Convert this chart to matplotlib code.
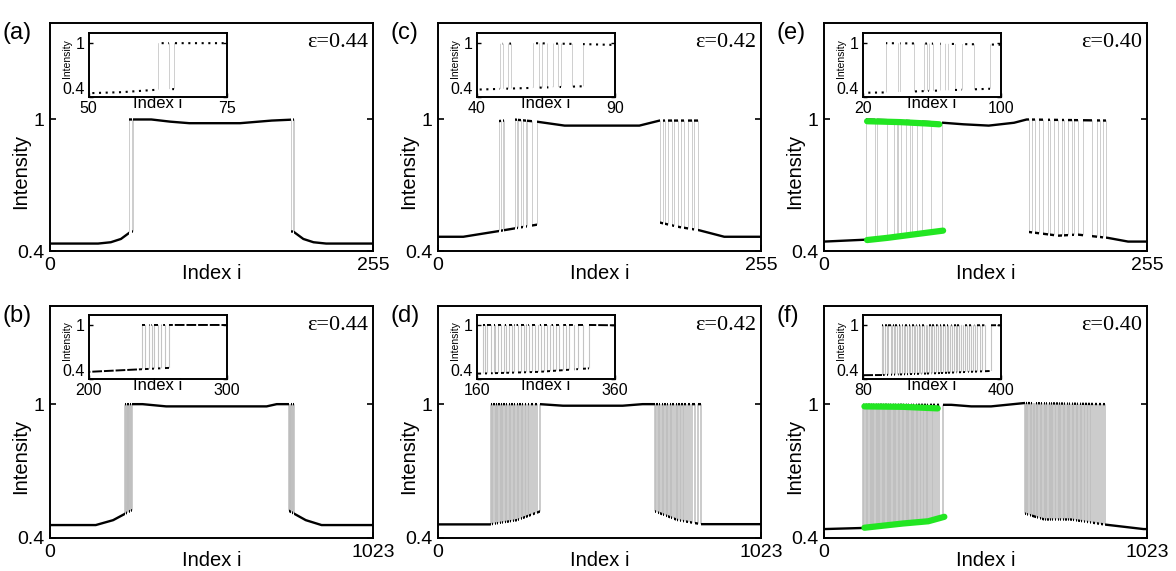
import matplotlib.pyplot as plt
from matplotlib.path import Path

plt.rcParams.update({
    "font.family": ["Liberation Sans", "DejaVu Sans"],
    "font.size": 14,
    "axes.linewidth": 1.4,
})

# ---------------- data ----------------
# lower / upper branch envelopes (index i, intensity) and the indices
# where the pattern jumps between the two branches

# (a) eps = 0.44, 256 sites
a_lo_x = [0, 38, 48, 56, 64, 192, 200, 208, 218, 255]
a_lo_y = [0.434, 0.434, 0.44, 0.455, 0.489, 0.489, 0.455, 0.44, 0.434, 0.434]
a_hi_x = [62, 80, 95, 110, 150, 175, 194]
a_hi_y = [1.0, 1.0, 0.99, 0.983, 0.983, 0.995, 1.0]
a_flips = [62.5, 64.5, 65.5, 190.5, 191.5, 192.5]

# (c) eps = 0.42, 256 sites
c_lo_x = [0, 20, 47, 78, 175, 190, 206, 226, 255]
c_lo_y = [0.465, 0.465, 0.49, 0.52, 0.53, 0.51, 0.495, 0.465, 0.465]
c_hi_x = [47, 60, 78, 100, 159, 175, 207]
c_hi_y = [0.992, 1.0, 0.99, 0.972, 0.972, 0.995, 0.995]
c_flips = [48.5, 49.5, 51.5, 52.5, 60.5, 62.5, 63.5, 65.5, 67.5, 69.5, 70.5, 74.5, 78.5,
           175.5, 177.5, 179.5, 181.5, 184.5, 186.5, 189.5, 191.5, 194.5, 197.5, 200.5,
           202.5, 205.5]

# (e) eps = 0.40, 256 sites
e_lo_x = [0, 34, 60, 94, 160, 185, 200, 224, 240, 255]
e_lo_y = [0.443, 0.452, 0.47, 0.493, 0.488, 0.47, 0.475, 0.46, 0.443, 0.443]
e_hi_x = [33, 60, 94, 110, 130, 150, 160, 224]
e_hi_y = [1.0, 0.995, 0.985, 0.978, 0.972, 0.985, 1.0, 0.995]
e_flips = [33.5, 40.5, 41.5, 49.5, 55.5, 57.5, 58.5, 60.5, 64.5, 67.5, 69.5, 73.5, 77.5,
           84.5, 93.5,
           161.5, 164.5, 166.5, 169.5, 172.5, 176.5, 178.5, 181.5, 184.5, 187.5, 189.5,
           192.5, 195.5, 197.5, 200.5, 204.5, 211.5, 215.5, 217.5, 220.5, 222.5]

# (b) eps = 0.44, 1024 sites
b_lo_x = [0, 145, 200, 258, 754, 810, 860, 1023]
b_lo_y = [0.458, 0.458, 0.48, 0.524, 0.524, 0.48, 0.458, 0.458]
b_hi_x = [237, 293, 368, 686, 718, 775]
b_hi_y = [1.0, 1.0, 0.99, 0.99, 1.0, 1.0]
b_flips = [238.5, 240.5, 243.5, 245.5, 247.5, 250.5, 252.5, 255.5, 258.5,
           755.5, 758.5, 761.5, 764.5, 767.5, 770.5, 773.5]

# (d) eps = 0.42, 1024 sites
d_lo_x = [0, 165, 250, 323, 686, 760, 834, 1023]
d_lo_y = [0.461, 0.461, 0.48, 0.519, 0.52, 0.48, 0.462, 0.462]
d_hi_x = [167, 323, 396, 585, 648, 835]
d_hi_y = [1.0, 1.0, 0.993, 0.993, 1.0, 1.0]
d_flips = [168.5, 172.5, 175.5, 180.5, 184.5, 186.5, 191.5, 195.5, 199.5, 202.5,
           207.5, 211.5, 214.5, 219.5, 223.5, 228.5, 231.5, 236.5, 240.5, 244.5,
           249.5, 252.5, 257.5, 262.5, 266.5, 270.5, 275.5, 279.5, 284.5, 289.5,
           294.5, 300.5, 306.5, 314.5, 322.5,
           686.5, 690.5, 695.5, 699.5, 703.5, 708.5, 712.5, 716.5, 721.5, 725.5,
           729.5, 734.5, 738.5, 742.5, 747.5, 752.5, 756.5, 761.5, 766.5, 770.5,
           775.5, 780.5, 786.5, 791.5, 797.5, 804.5, 812.5, 822.5, 833.5]

# (f) eps = 0.40, 1024 sites
f_lo_x = [0, 124, 250, 377, 635, 698, 781, 891, 1012, 1023]
f_lo_y = [0.44, 0.445, 0.465, 0.49, 0.51, 0.483, 0.483, 0.46, 0.44, 0.44]
f_hi_x = [123, 361, 403, 466, 529, 635, 892]
f_hi_y = [0.997, 0.997, 0.997, 0.99, 0.99, 1.005, 1.0]
f_flips = [124.5, 127.5, 131.5, 136.5, 139.5, 144.5, 147.5, 151.5, 155.5, 158.5,
           163.5, 166.5, 170.5, 175.5, 178.5, 182.5, 186.5, 189.5, 194.5, 198.5,
           201.5, 205.5, 210.5, 213.5, 217.5, 222.5, 225.5, 229.5, 233.5, 238.5,
           241.5, 245.5, 250.5, 253.5, 258.5, 262.5, 265.5, 270.5, 274.5, 277.5,
           282.5, 286.5, 290.5, 295.5, 298.5, 303.5, 307.5, 312.5, 316.5, 321.5,
           325.5, 330.5, 335.5, 340.5, 345.5, 351.5, 357.5, 363.5, 376.5,
           635.5, 639.5, 642.5, 646.5, 651.5, 654.5, 658.5, 663.5, 666.5, 670.5,
           674.5, 678.5, 683.5, 686.5, 690.5, 695.5, 698.5, 702.5, 707.5, 711.5,
           714.5, 719.5, 723.5, 726.5, 731.5, 735.5, 739.5, 743.5, 747.5, 751.5,
           756.5, 759.5, 763.5, 768.5, 772.5, 775.5, 780.5, 784.5, 788.5, 792.5,
           797.5, 801.5, 805.5, 810.5, 814.5, 818.5, 823.5, 827.5, 832.5, 836.5,
           841.5, 846.5, 851.5, 857.5, 863.5, 870.5, 877.5, 884.5, 890.5]

# green hand-drawn highlights in (e) and (f)
e_green_hi_x = [34, 60, 80, 91]
e_green_hi_y = [0.992, 0.988, 0.982, 0.978]
e_green_lo_x = [34, 50, 70, 94]
e_green_lo_y = [0.45, 0.46, 0.475, 0.493]
f_green_hi_x = [128, 250, 360]
f_green_hi_y = [0.99, 0.988, 0.981]
f_green_lo_x = [128, 250, 330, 381]
f_green_lo_y = [0.446, 0.465, 0.475, 0.495]

labels = ["(a)", "(c)", "(e)", "(b)", "(d)", "(f)"]
eps_labels = ["ε=0.44", "ε=0.42", "ε=0.40", "ε=0.44", "ε=0.42", "ε=0.40"]
n_max = [255, 255, 255, 1023, 1023, 1023]
inset_lims = [(50, 75), (40, 90), (20, 100), (200, 300), (160, 360), (80, 400)]

panels = [
    (a_lo_x, a_lo_y, a_hi_x, a_hi_y, a_flips),
    (c_lo_x, c_lo_y, c_hi_x, c_hi_y, c_flips),
    (e_lo_x, e_lo_y, e_hi_x, e_hi_y, e_flips),
    (b_lo_x, b_lo_y, b_hi_x, b_hi_y, b_flips),
    (d_lo_x, d_lo_y, d_hi_x, d_hi_y, d_flips),
    (f_lo_x, f_lo_y, f_hi_x, f_hi_y, f_flips),
]
greens = {
    2: [(e_green_hi_x, e_green_hi_y), (e_green_lo_x, e_green_lo_y)],
    5: [(f_green_hi_x, f_green_hi_y), (f_green_lo_x, f_green_lo_y)],
}


def rect_path(edges, first):
    # union of every other interval of edges, as one clip path
    verts, codes = [], []
    for x0, x1 in zip(edges[first::2], edges[first + 1::2]):
        verts += [(x0, -1), (x1, -1), (x1, 3), (x0, 3), (x0, -1)]
        codes += [Path.MOVETO, Path.LINETO, Path.LINETO, Path.LINETO, Path.CLOSEPOLY]
    if not verts:
        verts, codes = [(0, 0), (0, 0)], [Path.MOVETO, Path.LINETO]
    return Path(verts, codes)


def draw_trace(ax, lo_x, lo_y, hi_x, hi_y, flips, x0, x1, branch_kw, sw_kw):
    inside = [f for f in flips if x0 < f < x1]
    state0 = sum(1 for f in flips if f <= x0) % 2
    edges = [x0] + inside + [x1]
    env = Path(list(zip(lo_x, lo_y)) + list(zip(hi_x[::-1], hi_y[::-1]))
               + [(lo_x[0], lo_y[0])], closed=True)
    vl = ax.vlines(inside, 0.3, 1.2, **sw_kw)
    vl.set_clip_path(env, ax.transData)
    lo_line, = ax.plot(lo_x, lo_y, **branch_kw)
    lo_line.set_clip_path(rect_path(edges, state0), ax.transData)
    hi_line, = ax.plot(hi_x, hi_y, **branch_kw)
    hi_line.set_clip_path(rect_path(edges, 1 - state0), ax.transData)


fig = plt.figure(figsize=(11.76, 5.71), dpi=100)
lefts = [0.0425, 0.3724, 0.7007]
rows = [(0.5604, 0.3993), (0.0578, 0.4063)]

for k, (lo_x, lo_y, hi_x, hi_y, flips) in enumerate(panels):
    bottom, height = rows[k // 3]
    ax = fig.add_axes([lefts[k % 3], bottom, 0.2747, height])
    n = n_max[k]
    top_row = k < 3
    sw_main = dict(colors="#cdcdcd", lw=0.7) if top_row else dict(colors="#bdbdbd", lw=1.1)
    draw_trace(ax, lo_x, lo_y, hi_x, hi_y, flips, 0, n,
               dict(color="black", lw=1.7, solid_capstyle="butt"), sw_main)
    for gx, gy in greens.get(k, []):
        ax.plot(gx, gy, color="#22e622", lw=4.5, solid_capstyle="round", zorder=4)

    ax.set_xlim(0, n)
    ax.set_ylim(0.4, 1.44)
    ax.set_xticks([0, n], ["0", str(n)])
    ax.set_yticks([0.4, 1], ["0.4", "1"])
    ax.tick_params(direction="in", right=True, length=4, width=1.2,
                   labelsize=14, pad=4)
    ax.set_xlabel("Index i", fontsize=14.5, va="top")
    ax.xaxis.set_label_coords(0.5, -0.055)
    ax.set_ylabel("Intensity", fontsize=14.5, va="center")
    ax.yaxis.set_label_coords(-0.092, 0.35)
    ax.text(-0.148, 1.005, labels[k], transform=ax.transAxes, ha="left",
            va="top", fontsize=17)
    ax.text(0.985, 0.955, eps_labels[k], transform=ax.transAxes, ha="right",
            va="top", fontsize=16, family="Liberation Serif")

    # zoomed inset
    i0, i1 = inset_lims[k]
    ins_h = 0.28 if top_row else 0.276
    ins_b = 0.675 if top_row else 0.685
    ia = ax.inset_axes([0.12, ins_b, 0.427, ins_h])
    if top_row:
        bkw = dict(color="black", lw=1.5, linestyle=(0, (1, 2.2)))
        sw_in = dict(colors="#c8c8c8", lw=0.6)
    else:
        bkw = dict(color="black", lw=1.4, linestyle=(0, (5, 1)))
        sw_in = dict(colors="#c4c4c4", lw=0.8)
    draw_trace(ia, lo_x, lo_y, hi_x, hi_y, flips, i0, i1, bkw, sw_in)
    ia.set_xlim(i0, i1)
    ia.set_ylim(0.4, 1.11)
    ia.set_xticks([i0, i1], [str(i0), str(i1)])
    ia.set_yticks([0.4, 1], ["0.4", "1"])
    ia.tick_params(direction="in", right=True, length=3, width=1.0,
                   labelsize=11.5, pad=3)
    ia.get_yticklabels()[0].set_va("bottom")
    for s in ia.spines.values():
        s.set_linewidth(1.4)
    ia.set_xlabel("Index i", fontsize=12, va="top")
    ia.xaxis.set_label_coords(0.5, 0.02)
    ia.set_ylabel("Intensity", fontsize=7.5, va="center")
    ia.yaxis.set_label_coords(-0.16, 0.6)

fig.savefig("out.png", dpi=100, facecolor="white")
